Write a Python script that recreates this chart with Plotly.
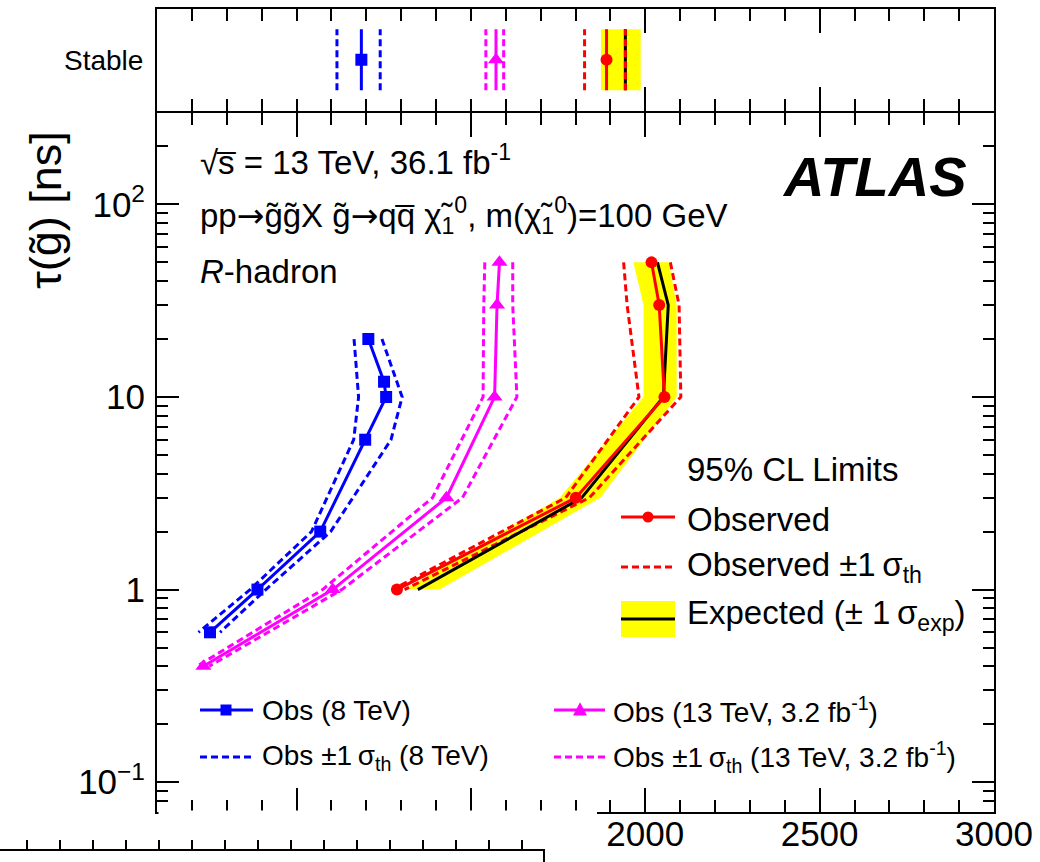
import plotly.graph_objects as go
import math

W, H = 1040, 862

def fx(x):
    return x / W

def fy(y):
    return 1 - y / H

# ---------------- data ----------------
# 8 TeV observed
tau_8 = [20, 12, 10, 6, 2, 1, 0.6]
m_8_obs = [1206, 1251, 1257, 1197, 1068, 888, 752]
m_8_up = [1245, 1287, 1303, 1271, 1098, 912, 781]
m_8_dn = [1165, 1176, 1178, 1164, 1043, 867, 719]

# 13 TeV, 3.2 fb-1 observed
tau_13 = [50, 30, 10, 3, 1, 0.4]
m_13_obs = [1582, 1575, 1568, 1430, 1104, 733]
m_13_up = [1620, 1620, 1632, 1476, 1130, 750]
m_13_dn = [1540, 1537, 1535, 1390, 1075, 715]

# 13 TeV, 36.1 fb-1
tau_36 = [50, 30, 10, 3, 1]
m_36_obs = [2018, 2040, 2055, 1801, 1288]
m_36_up = [2072, 2097, 2102, 1840, 1310]
m_36_dn = [1938, 1948, 1982, 1772, 1276]
m_36_exp = [2035, 2066, 2052, 1818, 1348]
m_36_exp_lo = [1966, 1995, 1995, 1755, 1310]
m_36_exp_hi = [2068, 2090, 2090, 1871, 1410]

# Stable R-hadron limits
stable_8 = [1186]
stable_8_up = [1240]
stable_8_dn = [1116]
stable_13 = [1572]
stable_13_up = [1594]
stable_13_dn = [1543]
stable_36_obs = [1889]
stable_36_up = [1943]
stable_36_dn = [1826]
stable_36_exp = [1943]
stable_36_exp_lo = [1873]
stable_36_exp_hi = [1987]

y_tickvals = [0.1, 1, 10, 100]
y_ticktext = ["10<sup>\u22121</sup>", "1", "10", "10<sup>2</sup>"]
x_tickvals = [1000, 1500, 2000, 2500, 3000]
x_ticktext = ["", "", "2000", "2500", "3000"]

# ---------------- style ----------------
RED = "rgb(255,0,0)"
BLUE = "rgb(0,0,255)"
MAG = "rgb(255,0,255)"
YEL = "rgb(255,255,0)"
DASH = "7px,4px"
LW = 3
FONT = "Liberation Sans, Arial, Helvetica, sans-serif"

fig = go.Figure()

# ---- main panel ----
fig.add_trace(go.Scatter(
    x=m_36_exp_lo + m_36_exp_hi[::-1], y=tau_36 + tau_36[::-1],
    fill="toself", fillcolor=YEL, line=dict(width=0), mode="lines",
    hoverinfo="skip", xaxis="x", yaxis="y"))
for arr in (m_36_up, m_36_dn):
    fig.add_trace(go.Scatter(x=arr, y=tau_36, mode="lines",
                             line=dict(color=RED, width=LW, dash=DASH)))
fig.add_trace(go.Scatter(x=m_36_exp, y=tau_36, mode="lines",
                         line=dict(color="black", width=LW)))
fig.add_trace(go.Scatter(x=m_36_obs, y=tau_36, mode="lines+markers",
                         line=dict(color=RED, width=LW),
                         marker=dict(symbol="circle", size=12, color=RED)))

for arr in (m_13_up, m_13_dn):
    fig.add_trace(go.Scatter(x=arr, y=tau_13, mode="lines",
                             line=dict(color=MAG, width=LW, dash=DASH)))
fig.add_trace(go.Scatter(x=m_13_obs, y=tau_13, mode="lines+markers",
                         line=dict(color=MAG, width=LW),
                         marker=dict(symbol="triangle-up", size=14, color=MAG)))

for arr in (m_8_up, m_8_dn):
    fig.add_trace(go.Scatter(x=arr, y=tau_8, mode="lines",
                             line=dict(color=BLUE, width=LW, dash=DASH)))
fig.add_trace(go.Scatter(x=m_8_obs, y=tau_8, mode="lines+markers",
                         line=dict(color=BLUE, width=LW),
                         marker=dict(symbol="square", size=12, color=BLUE)))

# ---- stable panel ----
YS = 0.6
fig.add_trace(go.Scatter(
    x=[stable_36_exp_lo[0], stable_36_exp_hi[0], stable_36_exp_hi[0], stable_36_exp_lo[0]],
    y=[-YS, -YS, YS, YS], fill="toself", fillcolor=YEL, line=dict(width=0),
    mode="lines", xaxis="x2", yaxis="y2"))

def vline(v, color, dash=None):
    fig.add_trace(go.Scatter(x=[v, v], y=[-YS, YS], mode="lines",
                             line=dict(color=color, width=LW, dash=dash),
                             xaxis="x2", yaxis="y2"))

vline(stable_36_dn[0], RED, DASH)
vline(stable_36_exp[0], "black")
vline(stable_36_up[0], RED, DASH)
vline(stable_36_obs[0], RED)
vline(stable_13_dn[0], MAG, DASH)
vline(stable_13_up[0], MAG, DASH)
vline(stable_13[0], MAG)
vline(stable_8_dn[0], BLUE, DASH)
vline(stable_8_up[0], BLUE, DASH)
vline(stable_8[0], BLUE)
fig.add_trace(go.Scatter(x=stable_36_obs, y=[0], mode="markers",
                         marker=dict(symbol="circle", size=12, color=RED),
                         xaxis="x2", yaxis="y2"))
fig.add_trace(go.Scatter(x=stable_13, y=[0], mode="markers",
                         marker=dict(symbol="triangle-up", size=14, color=MAG),
                         xaxis="x2", yaxis="y2"))
fig.add_trace(go.Scatter(x=stable_8, y=[0], mode="markers",
                         marker=dict(symbol="square", size=12, color=BLUE),
                         xaxis="x2", yaxis="y2"))

# ---- partial lower panel (cropped) ----
fig.add_trace(go.Scatter(x=[0], y=[0], mode="markers", marker=dict(opacity=0),
                         xaxis="x3", yaxis="y3", hoverinfo="skip"))

# ---------------- layout ----------------
XL, XR = 157, 994
MAIN_T, MAIN_B = 112.5, 812
TOP_T, TOP_B = 9, 110.5

common_x = dict(
    range=[600, 3000], showgrid=False, zeroline=False,
    showline=True, linecolor="black", linewidth=2, mirror="allticks",
    ticks="inside", ticklen=24, tickwidth=1.5, tickcolor="black",
    tickmode="array", tickvals=x_tickvals,
    minor=dict(dtick=100, tick0=0, ticks="inside", ticklen=12,
               tickwidth=1.5, tickcolor="black", showgrid=False),
)

minor_y = []
for d in (0.01, 0.1, 1, 10, 100):
    for k in range(2, 10):
        v = k * d
        if 0.07 <= v <= 300:
            minor_y.append(v)

fig.update_layout(
    width=W, height=H, autosize=False,
    margin=dict(l=0, r=0, t=0, b=0, pad=0, autoexpand=False),
    paper_bgcolor="white", plot_bgcolor="white",
    showlegend=False,
    font=dict(family=FONT, color="black"),
    xaxis=dict(domain=[fx(XL), fx(XR)], anchor="y", automargin=False,
               ticktext=x_ticktext, tickfont=dict(size=35, family=FONT),
               ticklabelstandoff=-10, **common_x),
    yaxis=dict(domain=[fy(MAIN_B), fy(MAIN_T)], anchor="x", type="log",
               automargin=False,
               range=[math.log10(0.07), math.log10(300)],
               showgrid=False, zeroline=False,
               showline=True, linecolor="black", linewidth=2, mirror="allticks",
               ticks="inside", ticklen=22, tickwidth=1.5, tickcolor="black",
               tickmode="array", tickvals=y_tickvals, ticktext=y_ticktext,
               tickfont=dict(size=35, family=FONT), ticklabelstandoff=3,
               minor=dict(tickmode="array", tickvals=minor_y, ticks="inside",
                          ticklen=11, tickwidth=1.5, tickcolor="black",
                          showgrid=False)),
    xaxis2=dict(domain=[fx(XL), fx(XR)], anchor="y2", showticklabels=False,
                automargin=False, ticktext=x_ticktext, **common_x),
    yaxis2=dict(domain=[fy(TOP_B), fy(TOP_T)], anchor="x2", range=[-1, 1],
                automargin=False,
                showgrid=False, zeroline=False,
                showline=True, linecolor="black", linewidth=2, mirror=True,
                ticks="", tickmode="array", tickvals=[0], ticktext=["Stable"],
                tickfont=dict(size=28, family=FONT), ticklabelstandoff=6),
    xaxis3=dict(domain=[0, fx(543)], anchor="y3", side="top", automargin=False,
                range=[-0.82, 15.64], showgrid=False, zeroline=False,
                showline=True, linecolor="black", linewidth=2,
                ticks="outside", ticklen=9, tickwidth=1.5, tickcolor="black",
                dtick=1, tick0=0, showticklabels=False),
    yaxis3=dict(domain=[0, fy(851)], anchor="x3", side="right", automargin=False,
                range=[0, 1], showgrid=False, zeroline=False,
                showline=True, linecolor="black", linewidth=2,
                ticks="", showticklabels=False),
)

shapes = []
# hide the cropped bottom-left part of the main x axis line
shapes.append(dict(type="rect", xref="paper", yref="paper",
                   x0=fx(158.5), x1=fx(597), y0=fy(816), y1=fy(810.6),
                   fillcolor="white", line=dict(width=0), layer="above"))

# ---- legend (upper right) ----
LX0, LX1 = 621, 675
def hline(x0, x1, y, color, dash=None, width=LW):
    shapes.append(dict(type="line", xref="paper", yref="paper",
                       x0=fx(x0), x1=fx(x1), y0=fy(y), y1=fy(y),
                       line=dict(color=color, width=width, dash=dash)))

hline(LX0, LX1, 517, RED)
r = 5.5
shapes.append(dict(type="circle", xref="paper", yref="paper",
                   x0=fx(648 - r), x1=fx(648 + r), y0=fy(517 + r), y1=fy(517 - r),
                   fillcolor=RED, line=dict(color=RED, width=0)))
hline(LX0, LX1, 567, RED, DASH)
shapes.append(dict(type="rect", xref="paper", yref="paper",
                   x0=fx(LX0), x1=fx(LX1), y0=fy(637), y1=fy(601),
                   fillcolor=YEL, line=dict(width=0)))
hline(LX0, LX1, 619, "black")

# ---- legend (bottom) ----
hline(200, 253, 710, BLUE)
s = 5.5
shapes.append(dict(type="rect", xref="paper", yref="paper",
                   x0=fx(226 - s), x1=fx(226 + s), y0=fy(710 + s), y1=fy(710 - s),
                   fillcolor=BLUE, line=dict(width=0)))
hline(200, 253, 757, BLUE, DASH)
hline(554, 605, 710, MAG)
tx, ty, t = 580, 710, 7
shapes.append(dict(type="path", xref="paper", yref="paper",
                   path=f"M {fx(tx - t)} {fy(ty + t * 0.8)} L {fx(tx + t)} {fy(ty + t * 0.8)} L {fx(tx)} {fy(ty - t * 1.1)} Z",
                   fillcolor=MAG, line=dict(width=0)))
hline(554, 605, 757, MAG, DASH)

fig.update_layout(shapes=shapes)

# ---------------- text ----------------
ann = []
def text(x, y, s, size, **kw):
    d = dict(x=fx(x), y=fy(y), xref="paper", yref="paper", text=s,
             showarrow=False, xanchor="left", yanchor="middle",
             font=dict(size=size, family=FONT, color="black"))
    d.update(kw)
    ann.append(d)

TS = "\u2009"
ARROW = "<span style=\"font-family:DejaVu Sans\">\u2192</span>"
text(198, 160, "\u221as\u0305 = 13 TeV, 36.1 fb<sup>-1</sup>", 33)
text(198, 215, "pp" + ARROW + "g\u0303g\u0303X g\u0303" + ARROW + "qq\u0305 \u03c7\u0303<sub>1</sub><sup>0</sup>, m(\u03c7\u0303<sub>1</sub><sup>0</sup>)=100 GeV", 33)
text(198, 271, "<i>R</i>-hadron", 33)
text(969, 176, "<b><i>ATLAS</i></b>", 56, xanchor="right")

text(685, 470, "95% CL Limits", 33)
text(685, 519, "Observed", 33)
text(685, 567, "Observed \u00b11" + TS + "\u03c3<sub>th</sub>", 33)
text(685, 615, "Expected (\u00b1 1" + TS + "\u03c3<sub>exp</sub>)", 33)

text(260, 710, "Obs (8 TeV)", 28)
text(260, 757, "Obs \u00b11" + TS + "\u03c3<sub>th</sub> (8 TeV)", 28)
text(611, 710, "Obs (13 TeV, 3.2 fb<sup>-1</sup>)", 28)
text(611, 757, "Obs \u00b11" + TS + "\u03c3<sub>th</sub> (13 TeV, 3.2 fb<sup>-1</sup>)", 28)

# y-axis title
ann.append(dict(x=fx(45), y=fy(210), xref="paper", yref="paper",
                text="\u03c4(g\u0303) [ns]", textangle=-90, showarrow=False,
                xanchor="center", yanchor="middle",
                font=dict(size=45, family=FONT, color="black")))

fig.update_layout(annotations=ann)

fig.write_html("out.html")
